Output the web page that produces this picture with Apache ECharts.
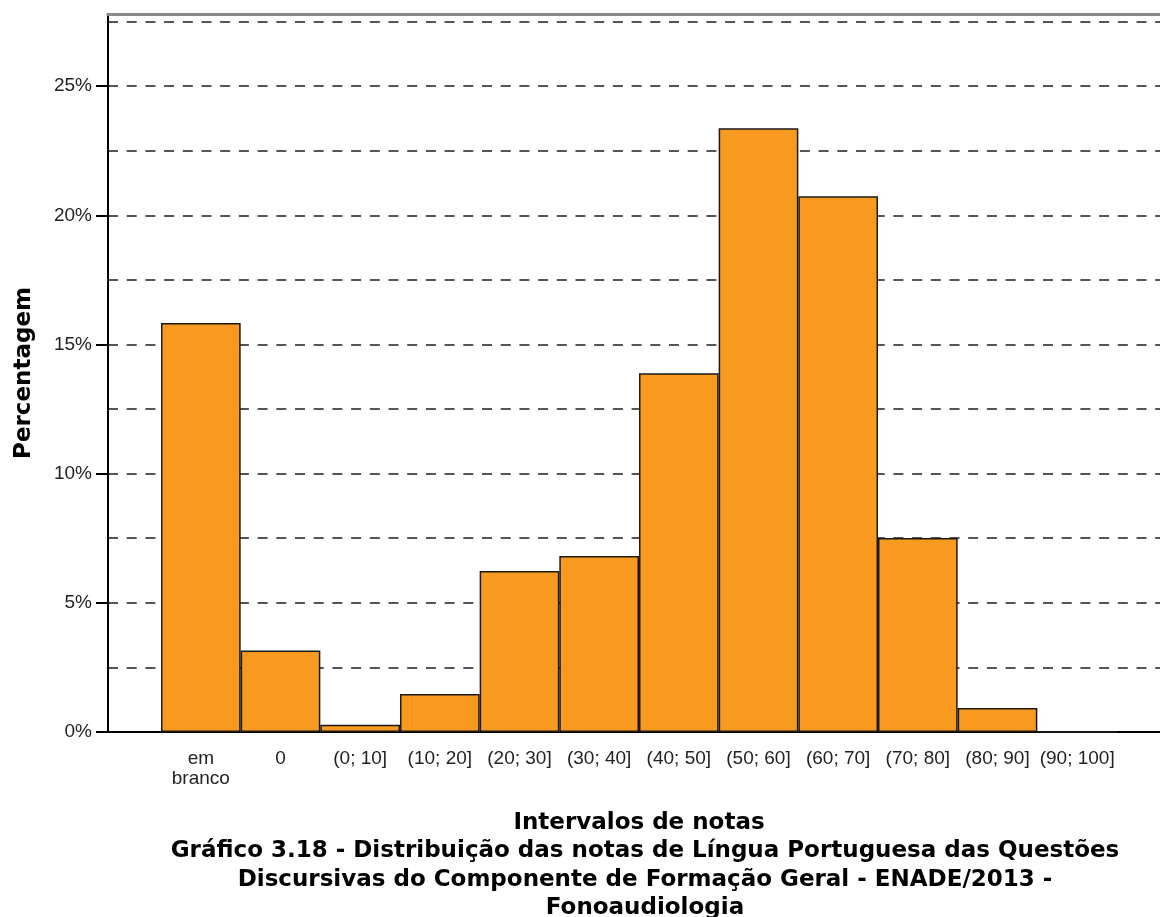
<!DOCTYPE html>
<html>
<head>
<meta charset="utf-8">
<title>Distribuição das notas - ENADE 2013</title>
<script src="https://cdn.jsdelivr.net/npm/echarts@6/dist/echarts.min.js"></script>
<style>
    html, body { margin: 0; padding: 0; background: #fff; }
    #chart { width: 1160px; height: 917px; }
</style>
</head>
<body>
<div id="chart"></div>
<script>
// dados
var categorias = ['em\nbranco', '0', '(0; 10]', '(10; 20]', '(20; 30]', '(30; 40]',
    '(40; 50]', '(50; 60]', '(60; 70]', '(70; 80]', '(80; 90]', '(90; 100]'];
var percentagens = [15.83, 3.15, 0.28, 1.47, 6.23, 6.81, 13.89, 23.37, 20.74, 7.51, 0.93, 0];
var rotulosY = [0, 5, 10, 15, 20, 25];
var maxY = 27.79;

var fonte = '"Liberation Sans", Arial, sans-serif';
var fonteNegrito = '"DejaVu Sans", "Liberation Sans", sans-serif';
var laranja = '#F89A1F';

var chart = echarts.init(document.getElementById('chart'));

var option = {
    animation: false,
    backgroundColor: '#fff',
    title: {
        text: 'Gráfico 3.18 - Distribuição das notas de Língua Portuguesa das Questões\nDiscursivas do Componente de Formação Geral - ENADE/2013 -\nFonoaudiologia',
        left: 640,
        top: 832,
        textAlign: 'center',
        textStyle: {
            fontFamily: fonteNegrito,
            fontSize: 23,
            fontWeight: 'bold',
            lineHeight: 28.5,
            color: '#000'
        }
    },
    grid: [
        // grade de fundo: eixo y, linhas tracejadas, moldura
        { left: 108, right: -2, top: 14, bottom: 185 },
        // grade das barras
        { left: 161, right: 43, top: 14, bottom: 185 }
    ],
    xAxis: [
        {
            gridIndex: 0, type: 'value', min: 0, max: 1,
            axisLine: { show: true, onZero: false, lineStyle: { color: '#000', width: 2 } },
            axisTick: { show: false }, axisLabel: { show: false }, splitLine: { show: false }
        },
        {
            gridIndex: 0, type: 'value', min: 0, max: 1, position: 'top',
            axisLine: { show: true, onZero: false, lineStyle: { color: '#888', width: 3 } },
            axisTick: { show: false }, axisLabel: { show: false }, splitLine: { show: false }
        },
        {
            gridIndex: 1, type: 'category', data: categorias,
            name: 'Intervalos de notas',
            nameLocation: 'middle',
            nameGap: 80,
            nameTextStyle: { fontFamily: fonteNegrito, fontSize: 23, fontWeight: 'bold', color: '#000' },
            axisLine: { show: false },
            axisTick: { alignWithLabel: true, length: 12, lineStyle: { color: '#000', width: 2 } },
            axisLabel: {
                interval: 0, margin: 17,
                fontFamily: fonte, fontSize: 19, lineHeight: 20, color: '#222'
            }
        },
        {
            // marcas curtas nas bordas das classes
            gridIndex: 1, type: 'category', data: categorias,
            axisLine: { show: false },
            axisTick: { alignWithLabel: false, length: 5, lineStyle: { color: '#444', width: 1 } },
            axisLabel: { show: false }
        }
    ],
    yAxis: [
        {
            gridIndex: 0, type: 'value', min: 0, max: maxY, interval: 5,
            name: 'Percentagem',
            nameLocation: 'middle',
            nameGap: 72,
            nameRotate: 90,
            nameTextStyle: { fontFamily: fonteNegrito, fontSize: 23, fontWeight: 'bold', color: '#000' },
            axisLine: { show: true, lineStyle: { color: '#000', width: 2 } },
            axisTick: { show: true, length: 12, customValues: rotulosY, lineStyle: { color: '#000', width: 2 } },
            axisLabel: {
                customValues: rotulosY,
                formatter: '{value}%',
                margin: 16,
                fontFamily: fonte, fontSize: 19, color: '#222'
            },
            splitLine: { show: false }
        },
        {
            gridIndex: 1, type: 'value', min: 0, max: maxY, show: false
        },
        {
            // linhas tracejadas a cada 2,5%
            gridIndex: 0, type: 'value', min: 0, max: maxY, interval: 2.5, position: 'left',
            axisLine: { show: false }, axisTick: { show: false }, axisLabel: { show: false },
            splitLine: {
                show: true,
                lineStyle: { color: '#555', width: 2, type: [10, 8.7] }
            }
        }
    ],
    series: [
        {
            name: 'Percentagem',
            type: 'bar',
            xAxisIndex: 2,
            yAxisIndex: 1,
            data: percentagens,
            barCategoryGap: 0,
            itemStyle: { color: laranja, borderColor: '#1a1a1a', borderWidth: 1.5 }
        }
    ]
};

chart.setOption(option);
</script>
</body>
</html>
